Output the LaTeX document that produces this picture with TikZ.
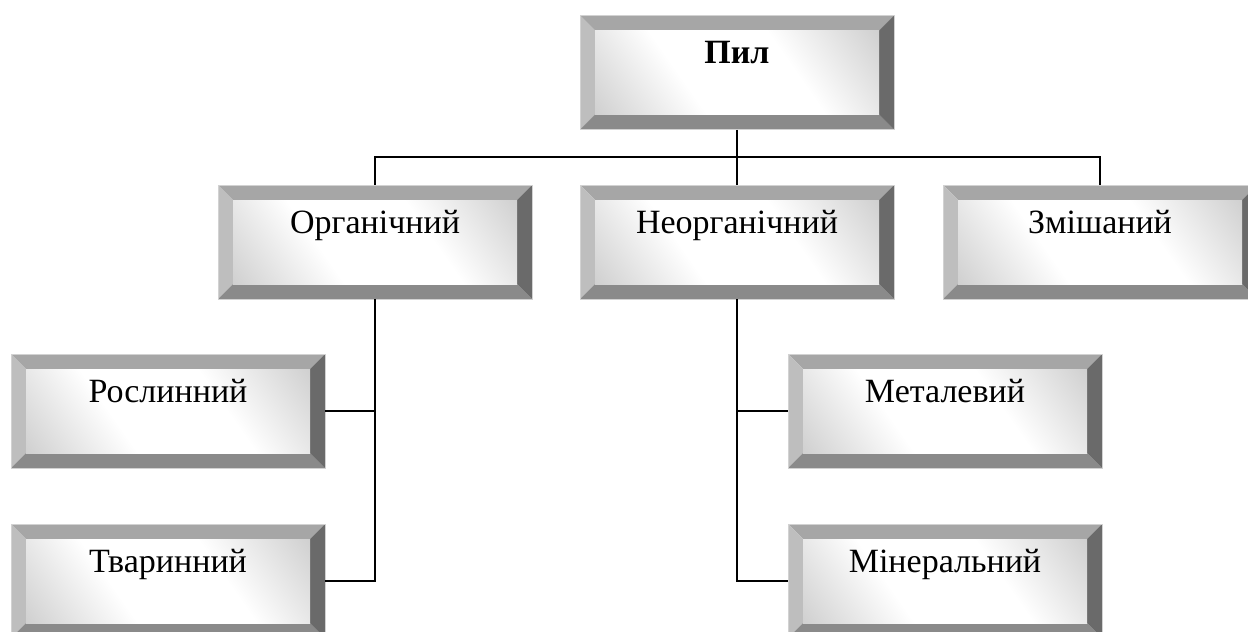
\documentclass[tikz,border=0pt]{standalone}
\usepackage{fontspec}
\setmainfont{Liberation Serif}
\usetikzlibrary{calc}
\definecolor{bvTop}{HTML}{A6A6A6}
\definecolor{bvLeft}{HTML}{BEBEBE}
\definecolor{bvBot}{HTML}{8A8A8A}
\definecolor{bvRight}{HTML}{6A6A6A}
\definecolor{bvFace}{HTML}{B0B0B0}
\pgfdeclarehorizontalshading{bvshade}{100bp}{color(0bp)=(bvFace); color(38bp)=(white); color(62bp)=(white); color(100bp)=(bvFace)}
\tikzset{
  bevel/.style={minimum width=314pt, minimum height=114pt, inner sep=0pt,
    text height=24pt, text depth=42pt, font=\fontsize{34}{40}\selectfont,
    draw=gray!35, line width=0.8pt,
    path picture={
      \fill[bvTop] (path picture bounding box.north west) -- (path picture bounding box.north east)
        -- ([shift={(-15pt,-15pt)}]path picture bounding box.north east)
        -- ([shift={(15pt,-15pt)}]path picture bounding box.north west) -- cycle;
      \fill[bvLeft] (path picture bounding box.north west) -- (path picture bounding box.south west)
        -- ([shift={(15pt,15pt)}]path picture bounding box.south west)
        -- ([shift={(15pt,-15pt)}]path picture bounding box.north west) -- cycle;
      \fill[bvBot] (path picture bounding box.south west) -- (path picture bounding box.south east)
        -- ([shift={(-15pt,15pt)}]path picture bounding box.south east)
        -- ([shift={(15pt,15pt)}]path picture bounding box.south west) -- cycle;
      \fill[bvRight] (path picture bounding box.north east) -- (path picture bounding box.south east)
        -- ([shift={(-15pt,15pt)}]path picture bounding box.south east)
        -- ([shift={(-15pt,-15pt)}]path picture bounding box.north east) -- cycle;
      \shade[shading=bvshade, shading angle=35]
        ([shift={(15pt,15pt)}]path picture bounding box.south west)
        rectangle ([shift={(-15pt,-15pt)}]path picture bounding box.north east);
    }},
  link/.style={line width=1.4pt, black}
}
\begin{document}
\begin{tikzpicture}[x=1pt,y=-1pt]
\useasboundingbox (0,0) rectangle (1248,632);
\clip (0,0) rectangle (1248,632);
\node[bevel, font=\fontsize{34}{40}\selectfont\bfseries] (pil) at (737,72.5) {Пил};
\node[bevel] (org) at (375,242) {Органічний};
\node[bevel] (neorg) at (737,242) {Неорганічний};
\node[bevel] (zm) at (1100,242) {Змішаний};
\node[bevel] (rosl) at (168,411) {Рослинний};
\node[bevel] (tvar) at (168,581) {Тваринний};
\node[bevel] (met) at (945,411) {Металевий};
\node[bevel] (min) at (945,581) {Мінеральний};
\coordinate (j) at (737,157);
\draw[link] (pil.south) -- (j);
\draw[link] (org.north) |- (j) -| (zm.north);
\draw[link] (j) -- (j |- neorg.north);
\draw[link] (org.south) |- (tvar.east);
\draw[link] (rosl.east) -- (rosl.east -| org.south);
\draw[link] (neorg.south) |- (min.west);
\draw[link] (met.west) -- (met.west -| neorg.south);
\end{tikzpicture}
\end{document}
